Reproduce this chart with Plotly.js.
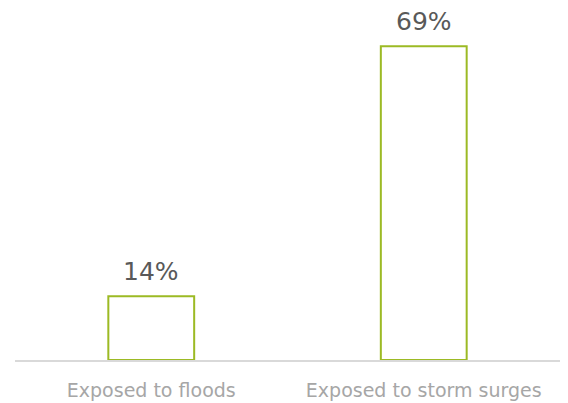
<!DOCTYPE html>
<html>
<head>
<meta charset="utf-8">
<script src="https://cdn.plot.ly/plotly-3.0.1.min.js"></script>
<style>
  html, body { margin: 0; padding: 0; background: #ffffff; }
  #chart { width: 568px; height: 403px; }
</style>
</head>
<body>
<div id="chart"></div>
<script>
// Share of population exposed to each hazard (%)
const categories = ["Exposed to floods", "Exposed to storm surges"];
const shares = [14, 69];
const shareLabels = ["14%", "69%"];

const barColor = "#9cba24";
const fontFamily = "'DejaVu Sans', sans-serif";

const trace = {
  type: "bar",
  x: categories,
  y: shares,
  width: 0.315,
  marker: {
    color: "#ffffff",
    line: { color: barColor, width: 2 }
  },
  hoverinfo: "skip"
};

const annotations = categories.map((c, i) => ({
  x: c,
  y: shares[i],
  xref: "x",
  yref: "y",
  text: shareLabels[i],
  showarrow: false,
  yanchor: "bottom",
  yshift: 8,
  font: { family: fontFamily, size: 25, color: "#595959" }
}));

const layout = {
  width: 568,
  height: 403,
  margin: { l: 15, r: 8, t: 10, b: 43 },
  paper_bgcolor: "#ffffff",
  plot_bgcolor: "#ffffff",
  showlegend: false,
  xaxis: {
    type: "category",
    showgrid: false,
    zeroline: false,
    showline: true,
    linecolor: "#d9d9d9",
    linewidth: 2,
    ticks: "",
    ticklabelstandoff: 12,
    tickfont: { family: fontFamily, size: 19, color: "#a6a6a6" }
  },
  yaxis: {
    range: [0, 77],
    visible: false,
    showgrid: false,
    zeroline: false
  },
  annotations: annotations
};

Plotly.newPlot("chart", [trace], layout, { displayModeBar: false, staticPlot: true });
</script>
</body>
</html>
